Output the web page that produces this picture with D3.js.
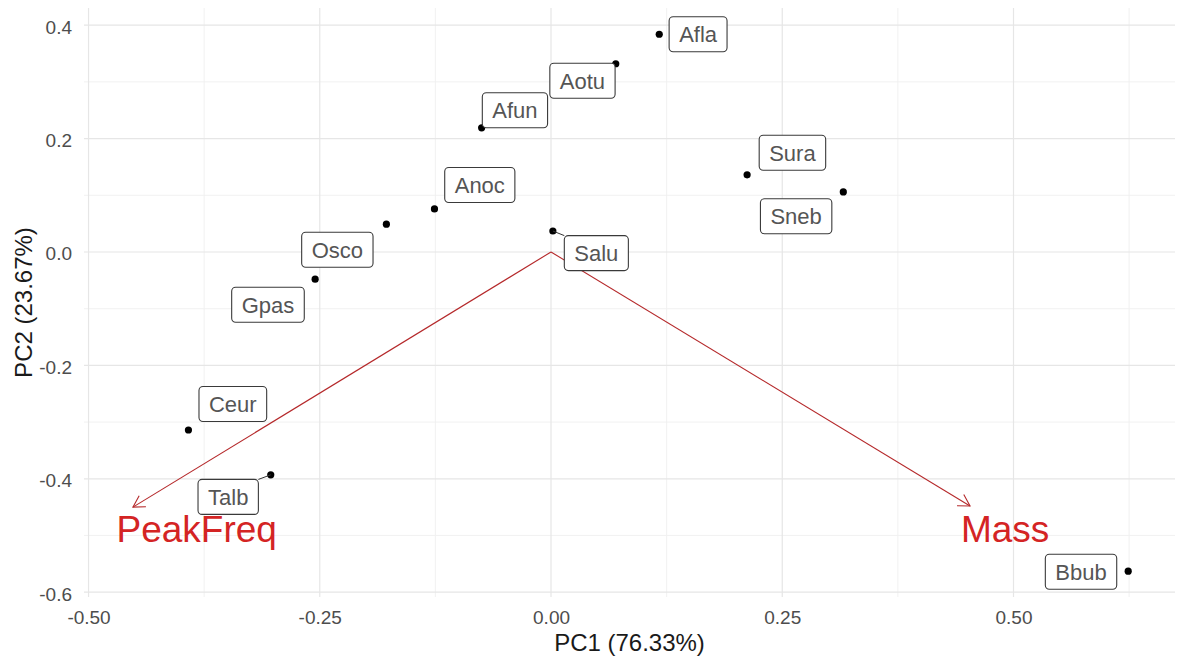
<!DOCTYPE html>
<html>
<head>
<meta charset="utf-8">
<script src="https://cdn.jsdelivr.net/npm/d3@7"></script>
<style>
  html, body { margin: 0; padding: 0; background: #ffffff; }
  svg { display: block; font-family: "Liberation Sans", Arial, sans-serif; }
</style>
</head>
<body>
<svg id="chart" width="1179" height="659"></svg>
<script>
// PCA biplot: species scores on PC1/PC2 with loading arrows.
const species = ["Afla", "Aotu", "Afun", "Anoc", "Osco", "Gpas", "Salu", "Sura", "Sneb", "Ceur", "Talb", "Bbub"];
const pc1 = [0.117, 0.070, -0.075, -0.126, -0.178, -0.255, 0.002, 0.212, 0.316, -0.392, -0.303, 0.624];
const pc2 = [0.384, 0.332, 0.219, 0.076, 0.049, -0.048, 0.037, 0.136, 0.106, -0.314, -0.393, -0.563];
// repelled label centres (data units)
const labelPc1 = [0.159, 0.034, -0.039, -0.077, -0.231, -0.306, 0.049, 0.261, 0.265, -0.344, -0.349, 0.573];
const labelPc2 = [0.384, 0.302, 0.250, 0.118, 0.004, -0.093, -0.002, 0.175, 0.063, -0.268, -0.432, -0.564];
const leaderLines = ["Talb", "Salu"];

const variables = ["PeakFreq", "Mass"];
const loadPc1 = [-0.452, 0.453];
const loadPc2 = [-0.450, -0.448];
const varLabelPc1 = [-0.383, 0.491];
const varLabelPc2 = [-0.488, -0.488];

const xTicks = [-0.5, -0.25, 0, 0.25, 0.5];
const xMinor = [-0.375, -0.125, 0.125, 0.375, 0.625];
const yTicks = [-0.6, -0.4, -0.2, 0.0, 0.2, 0.4];
const yMinor = [-0.5, -0.3, -0.1, 0.1, 0.3];

const xTitle = "PC1 (76.33%)";
const yTitle = "PC2 (23.67%)";

const panel = { left: 84, right: 1175, top: 8, bottom: 597 };
const svg = d3.select("#chart");

const x = d3.scaleLinear().domain([-0.5049, 0.6746]).range([panel.left, panel.right]);
const y = d3.scaleLinear().domain([-0.6085, 0.4303]).range([panel.bottom, panel.top]);

// grid
const grid = svg.append("g");
grid.selectAll(".xminor").data(xMinor.filter(v => x(v) <= panel.right)).join("line")
  .attr("x1", d => x(d)).attr("x2", d => x(d))
  .attr("y1", panel.top).attr("y2", panel.bottom)
  .attr("stroke", "#efefef").attr("stroke-width", 0.9);
grid.selectAll(".yminor").data(yMinor).join("line")
  .attr("y1", d => y(d)).attr("y2", d => y(d))
  .attr("x1", panel.left).attr("x2", panel.right)
  .attr("stroke", "#efefef").attr("stroke-width", 0.9);
grid.selectAll(".xmajor").data(xTicks).join("line")
  .attr("x1", d => x(d)).attr("x2", d => x(d))
  .attr("y1", panel.top).attr("y2", panel.bottom)
  .attr("stroke", "#e6e6e6").attr("stroke-width", 1.2);
grid.selectAll(".ymajor").data(yTicks).join("line")
  .attr("y1", d => y(d)).attr("y2", d => y(d))
  .attr("x1", panel.left).attr("x2", panel.right)
  .attr("stroke", "#e6e6e6").attr("stroke-width", 1.2);

// axes (text only, no lines)
const xAxis = svg.append("g").attr("transform", `translate(0,${panel.bottom})`)
  .call(d3.axisBottom(x).tickValues(xTicks).tickSize(0).tickPadding(0)
    .tickFormat(d => d3.format(".2f")(d).replace("−", "-")));
xAxis.select(".domain").remove();
xAxis.selectAll("text").attr("font-size", 19).attr("fill", "#4d4d4d")
  .attr("dy", null).attr("y", 27);

const yAxis = svg.append("g").attr("transform", `translate(${panel.left},0)`)
  .call(d3.axisLeft(y).tickValues(yTicks).tickSize(0).tickPadding(0)
    .tickFormat(d => d3.format(".1f")(d).replace("−", "-")));
yAxis.select(".domain").remove();
yAxis.selectAll("text").attr("font-size", 19).attr("fill", "#4d4d4d")
  .attr("x", -12).attr("dy", "0.42em");

svg.append("text").attr("x", (panel.left + panel.right) / 2).attr("y", 651)
  .attr("text-anchor", "middle").attr("font-size", 24).attr("fill", "#1a1a1a").text(xTitle);
svg.append("text").attr("transform", `translate(32,${(panel.top + panel.bottom) / 2}) rotate(-90)`)
  .attr("text-anchor", "middle").attr("font-size", 24).attr("fill", "#1a1a1a").text(yTitle);

// loading arrows
const arrowColor = "#b5292b";
const arrows = svg.append("g");
variables.forEach((v, i) => {
  const x0 = x(0), y0 = y(0), x1 = x(loadPc1[i]), y1 = y(loadPc2[i]);
  arrows.append("line").attr("x1", x0).attr("y1", y0).attr("x2", x1).attr("y2", y1)
    .attr("stroke", arrowColor).attr("stroke-width", 1.1);
  const ang = Math.atan2(y1 - y0, x1 - x0);
  const len = 13, spread = Math.PI / 6;
  const p1 = [x1 - len * Math.cos(ang - spread), y1 - len * Math.sin(ang - spread)];
  const p2 = [x1 - len * Math.cos(ang + spread), y1 - len * Math.sin(ang + spread)];
  arrows.append("path").attr("d", `M${p1[0]},${p1[1]}L${x1},${y1}L${p2[0]},${p2[1]}`)
    .attr("fill", "none").attr("stroke", arrowColor).attr("stroke-width", 1.1);
  arrows.append("text").attr("x", x(varLabelPc1[i])).attr("y", y(varLabelPc2[i]))
    .attr("text-anchor", "middle").attr("dy", "0.36em")
    .attr("font-size", 37).attr("fill", "#d42424").text(v);
});

// points
svg.append("g").selectAll("circle").data(species).join("circle")
  .attr("cx", (d, i) => x(pc1[i])).attr("cy", (d, i) => y(pc2[i]))
  .attr("r", 3.6).attr("fill", "#000");

// labels with boxes
const labels = svg.append("g");
species.forEach((s, i) => {
  const cx = x(labelPc1[i]), cy = y(labelPc2[i]);
  const t = labels.append("text").attr("x", cx).attr("y", cy)
    .attr("text-anchor", "middle").attr("dy", "0.36em")
    .attr("font-size", 22).attr("fill", "#555555").text(s);
  const w = t.node().getComputedTextLength() + 20;
  const h = 35;
  const bx = cx - w / 2, by = cy - h / 2;
  if (leaderLines.includes(s)) {
    const px = x(pc1[i]), py = y(pc2[i]);
    const ex = Math.max(bx, Math.min(px, bx + w));
    const ey = Math.max(by, Math.min(py, by + h));
    labels.insert("line", "text").attr("x1", px).attr("y1", py)
      .attr("x2", ex).attr("y2", ey).attr("stroke", "#333").attr("stroke-width", 1);
  }
  labels.insert("rect", "text").attr("x", bx).attr("y", by).attr("width", w).attr("height", h)
    .attr("rx", 4).attr("ry", 4).attr("fill", "#fff").attr("stroke", "#3a3a3a").attr("stroke-width", 1.1);
});
</script>
</body>
</html>
